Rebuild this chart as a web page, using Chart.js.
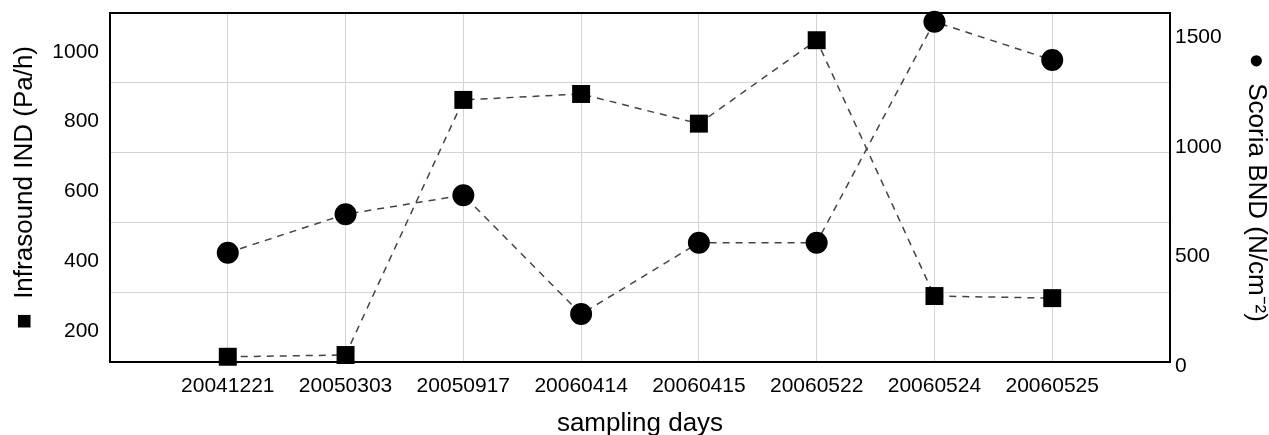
<!DOCTYPE html>
<html lang="en">
<head>
<meta charset="utf-8"/>
<title>Infrasound IND vs Scoria BND</title>
<script src="https://cdn.jsdelivr.net/npm/chart.js"></script>
<style>
  html, body {
    margin: 0;
    padding: 0;
    background: #ffffff;
  }
  #wrap {
    width: 1269px;
    height: 435px;
  }
</style>
</head>
<body>
<div id="wrap"><canvas id="grafico"></canvas></div>

<script>
  // sampling days (x axis)
  const dias = ['20041221', '20050303', '20050917', '20060414', '20060415', '20060522', '20060524', '20060525'];
  // squares, left axis (Pa/h)
  const infrasound = [126, 131, 862, 879, 794, 1033, 300, 294];
  // circles, right axis (N/cm-2)
  const scoria = [517, 693, 780, 237, 563, 563, 1572, 1397];

  const ticksEsq = [200, 400, 600, 800, 1000];
  const ticksDir = [0, 500, 1000, 1500];

  // blank slot at each end so the points sit one step inside the frame
  const labels = ['', ...dias, ''];
  const serie = arr => [null, ...arr, null];

  const fonte = "'Liberation Sans', Arial, Helvetica, sans-serif";
  const corGrade = '#d4d4d4';

  // black frame round the plot area
  const moldura = {
    id: 'moldura',
    beforeDatasetsDraw(chart) {
      const { ctx, chartArea: a } = chart;
      ctx.save();
      ctx.strokeStyle = '#000';
      ctx.lineWidth = 2;
      ctx.strokeRect(a.left, a.top, a.right - a.left, a.bottom - a.top);
      ctx.restore();
    }
  };

  const semPadding = s => { s.paddingTop = 0; s.paddingBottom = 0; s.paddingLeft = 0; s.paddingRight = 0; };

  const ctx = document.getElementById('grafico').getContext('2d');
  new Chart(ctx, {
    type: 'line',
    data: {
      labels,
      datasets: [
        {
          label: 'Infrasound IND',
          data: serie(infrasound),
          yAxisID: 'y',
          borderColor: '#444',
          borderWidth: 1.5,
          borderDash: [7, 6],
          pointStyle: 'rect',
          pointRadius: 12.7,
          pointBackgroundColor: '#000',
          pointBorderColor: '#000',
          pointBorderWidth: 0,
          tension: 0,
          clip: false
        },
        {
          label: 'Scoria BND',
          data: serie(scoria),
          yAxisID: 'y1',
          borderColor: '#444',
          borderWidth: 1.5,
          borderDash: [7, 6],
          pointStyle: 'circle',
          pointRadius: 11,
          pointBackgroundColor: '#000',
          pointBorderColor: '#000',
          pointBorderWidth: 0,
          tension: 0,
          clip: false
        }
      ]
    },
    options: {
      responsive: true,
      maintainAspectRatio: false,
      animation: false,
      layout: { padding: { left: 0, right: 0, top: 13, bottom: 0 } },
      plugins: {
        legend: { display: false },
        tooltip: { enabled: false }
      },
      scales: {
        x: {
          offset: false,
          afterFit: s => { semPadding(s); s.height = 73; },
          grid: { color: corGrade, drawTicks: false },
          border: { display: false },
          ticks: { color: '#000', font: { family: fonte, size: 21 }, padding: 12, maxRotation: 0, autoSkip: false },
          title: { display: true, text: 'sampling days', color: '#000', font: { family: fonte, size: 26, lineHeight: 1 }, padding: { top: 0, bottom: -2 } }
        },
        y: {
          position: 'left',
          min: 111,
          max: 1111,
          afterBuildTicks: s => { s.ticks = ticksEsq.map(v => ({ value: v })); },
          afterFit: s => { semPadding(s); s.width = 110; },
          grid: { display: false, drawTicks: false },
          border: { display: false },
          ticks: { color: '#000', font: { family: fonte, size: 21 }, padding: 11, callback: v => String(v) },
          title: { display: true, text: '■  Infrasound IND (Pa/h)', color: '#000', font: { family: fonte, size: 26, lineHeight: 1 }, padding: { top: 12, bottom: 0 } }
        },
        y1: {
          position: 'right',
          min: 18,
          max: 1612,
          afterBuildTicks: s => { s.ticks = ticksDir.map(v => ({ value: v })); },
          afterFit: s => { semPadding(s); s.width = 99; },
          grid: { display: false, drawTicks: false },
          border: { display: false },
          ticks: { color: '#000', font: { family: fonte, size: 21 }, padding: 5, callback: v => String(v) },
          title: { display: true, text: '●  Scoria BND (N/cm⁻²)', color: '#000', font: { family: fonte, size: 26, lineHeight: 1 }, padding: { top: 0, bottom: 0 } }
        },
        g: {
          position: 'left',
          min: 0,
          max: 5,
          afterFit: s => { semPadding(s); s.width = 0; },
          ticks: { display: false, stepSize: 1 },
          grid: { color: corGrade, drawTicks: false },
          border: { display: false }
        }
      }
    },
    plugins: [moldura]
  });
</script>
</body>
</html>
